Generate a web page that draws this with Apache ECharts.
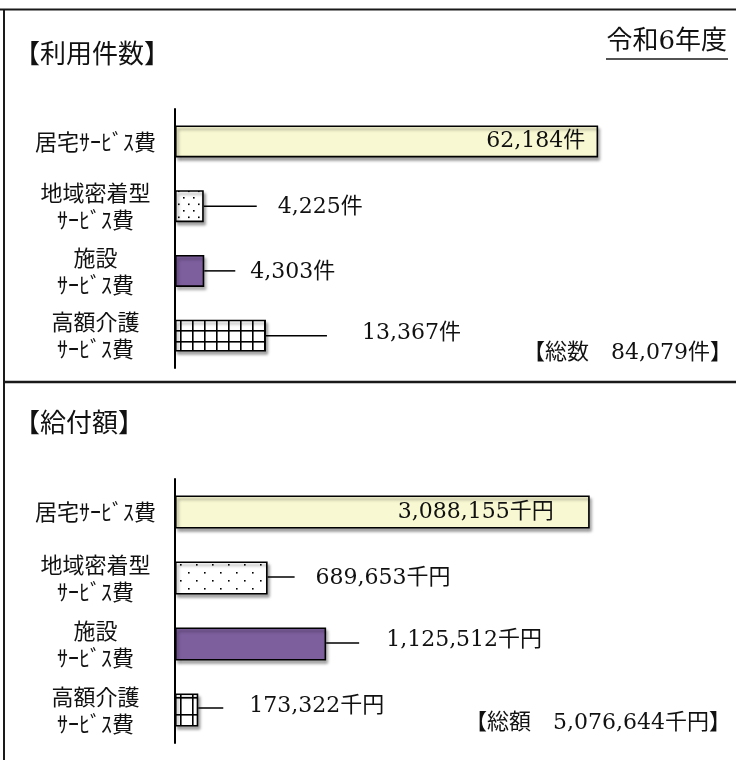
<!DOCTYPE html>
<html>
<head>
<meta charset="utf-8">
<script src="https://cdn.jsdelivr.net/npm/echarts@6/dist/echarts.min.js"></script>
<style>
  html, body { margin: 0; padding: 0; background: #fff; }
  #chart { width: 736px; height: 760px; }
</style>
</head>
<body>
<div id="chart"></div>
<script>
// 介護給付の内訳（令和6年度）
const categories = ['居宅ｻｰﾋﾞｽ費', '地域密着型\nｻｰﾋﾞｽ費', '施設\nｻｰﾋﾞｽ費', '高額介護\nｻｰﾋﾞｽ費'];
const countValues = [62184, 4225, 4303, 13367];       // 利用件数（件）
const amountValues = [3088155, 689653, 1125512, 173322]; // 給付額（千円）
const countUnit = '件';
const amountUnit = '千円';
const yearText = '令和6年度';
const countTitle = '【利用件数】';
const amountTitle = '【給付額】';
const countTotalText = '【総数　84,079件】';
const amountTotalText = '【総額　5,076,644千円】';

const JP = '"Noto Sans CJK JP", sans-serif';
const NUM = '"DejaVu Serif", "Noto Sans CJK JP", serif';

// ---- fill patterns ----
function makeCanvas(w, h) {
  const c = document.createElement('canvas');
  c.width = w; c.height = h;
  const ctx = c.getContext('2d');
  ctx.fillStyle = '#fff';
  ctx.fillRect(0, 0, w, h);
  return [c, ctx];
}
function dotPattern(w, h, dots) {
  const [c, ctx] = makeCanvas(w, h);
  ctx.fillStyle = '#000';
  dots.forEach(([x, y]) => { ctx.fillRect(x, y, 1.6, 1.6); });
  return { image: c, repeat: 'repeat' };
}
function gridPattern(w, h) {
  const [c, ctx] = makeCanvas(w, h);
  ctx.fillStyle = '#000';
  ctx.fillRect(0, 0, 1.6, h);
  ctx.fillRect(0, 0, w, 1.6);
  return { image: c, repeat: 'repeat' };
}

const yellow = '#f8f8d2';
const purple = '#7d5f9e';
const countFills = [yellow, dotPattern(10, 13, [[3, 2], [8, 8.5]]), purple, gridPattern(12, 11)];
const amountFills = [yellow, dotPattern(16, 16, [[4, 4], [12, 12]]), purple, gridPattern(12, 17)];

// label placement per bar: inside (right-aligned) or leader line + text to the right
const countLabelLayout = [
  { inside: true, pad: 13, dy: 0 },
  { len: 53, gap: 21, dy: 1, ly: 0 },
  { len: 31, gap: 15, dy: 1, ly: 0 },
  { len: 61, gap: 35, dy: -2, ly: 0 }
];
const amountLabelLayout = [
  { inside: true, pad: 36, dy: 0 },
  { len: 27, gap: 21, dy: 0, ly: -1 },
  { len: 33, gap: 27, dy: -4, ly: -1 },
  { len: 25, gap: 26, dy: -4, ly: -2 }
];

function barSeries(gi, values, fills, width) {
  return {
    type: 'bar',
    xAxisIndex: gi, yAxisIndex: gi,
    barWidth: width,
    z: 3,
    data: values.map((v, i) => ({
      value: v,
      itemStyle: {
        color: fills[i],
        borderColor: '#000',
        borderWidth: 1.6,
        shadowColor: 'rgba(0,0,0,0.35)',
        shadowBlur: 3,
        shadowOffsetX: 2,
        shadowOffsetY: 3
      }
    })),
    label: { show: false },
    emphasis: { disabled: true },
    animation: false
  };
}

function labelSeries(gi, values, unit, layout) {
  return {
    type: 'custom',
    xAxisIndex: gi, yAxisIndex: gi,
    z: 5,
    data: values.map((v, i) => [v, i]),
    encode: { x: 0, y: 1 },
    animation: false,
    renderItem: function (params, api) {
      const i = params.dataIndex;
      const v = api.value(0);
      const p = api.coord([v, api.value(1)]);
      const L = layout[i];
      const text = v.toLocaleString('en-US') + unit;
      const textStyle = {
        text: text, fill: '#111', fontSize: 22, fontFamily: NUM,
        verticalAlign: 'middle'
      };
      if (L.inside) {
        return {
          type: 'text',
          style: Object.assign({}, textStyle, { x: p[0] - L.pad, y: p[1] + L.dy, align: 'right' })
        };
      }
      return {
        type: 'group',
        children: [
          {
            type: 'line',
            shape: { x1: p[0], y1: p[1] + L.ly, x2: p[0] + L.len, y2: p[1] + L.ly },
            style: { stroke: '#000', lineWidth: 1.5 }
          },
          {
            type: 'text',
            style: Object.assign({}, textStyle, { x: p[0] + L.len + L.gap, y: p[1] + L.dy, align: 'left' })
          }
        ]
      };
    }
  };
}

function categoryAxis(gi) {
  return {
    type: 'category',
    gridIndex: gi,
    data: categories,
    inverse: true,
    axisLine: { show: true, lineStyle: { color: '#000', width: 2 } },
    axisTick: { show: false },
    splitLine: { show: false },
    axisLabel: {
      margin: 19,
      align: 'right',
      formatter: v => v.split('\n').map(s => '{c|' + s + '}').join('\n'),
      rich: {
        c: { width: 121, align: 'center', fontSize: 22, lineHeight: 27, fontFamily: JP, color: '#111' }
      }
    }
  };
}

function textEl(x, y, text, opts) {
  return {
    type: 'text', x: x, y: y, silent: true,
    style: Object.assign({ text: text, fill: '#111', fontFamily: NUM, fontSize: 22, verticalAlign: 'middle' }, opts)
  };
}
function lineEl(x1, y1, x2, y2, w) {
  return {
    type: 'line', silent: true,
    shape: { x1: x1, y1: y1, x2: x2, y2: y2 },
    style: { stroke: '#1a1a1a', lineWidth: w }
  };
}

const chart = echarts.init(document.getElementById('chart'), null, { renderer: 'canvas' });
chart.setOption({
  backgroundColor: '#fff',
  animation: false,
  grid: [
    { left: 175, top: 109, width: 558, height: 259 },
    { left: 175, top: 479, width: 560, height: 264 }
  ],
  xAxis: [
    { type: 'value', gridIndex: 0, min: 0, max: 82000, show: false },
    { type: 'value', gridIndex: 1, min: 0, max: 4170000, show: false }
  ],
  yAxis: [categoryAxis(0), categoryAxis(1)],
  series: [
    barSeries(0, countValues, countFills, 32),
    labelSeries(0, countValues, countUnit, countLabelLayout),
    barSeries(1, amountValues, amountFills, 33),
    labelSeries(1, amountValues, amountUnit, amountLabelLayout)
  ],
  graphic: [
    // frame
    lineEl(0, 9.5, 736, 9.5, 2),
    lineEl(4, 9, 4, 760, 2),
    lineEl(4, 382, 736, 382, 2.5),
    // headings
    textEl(14, 53, countTitle, { fontFamily: JP, fontSize: 26, align: 'left' }),
    textEl(14, 422, amountTitle, { fontFamily: JP, fontSize: 26, align: 'left' }),
    textEl(727, 42, yearText, { fontSize: 26, align: 'right' }),
    lineEl(606, 59, 728, 59, 1.5),
    // totals
    textEl(732, 353, countTotalText, { align: 'right' }),
    textEl(731, 723, amountTotalText, { align: 'right' })
  ]
});
</script>
</body>
</html>
